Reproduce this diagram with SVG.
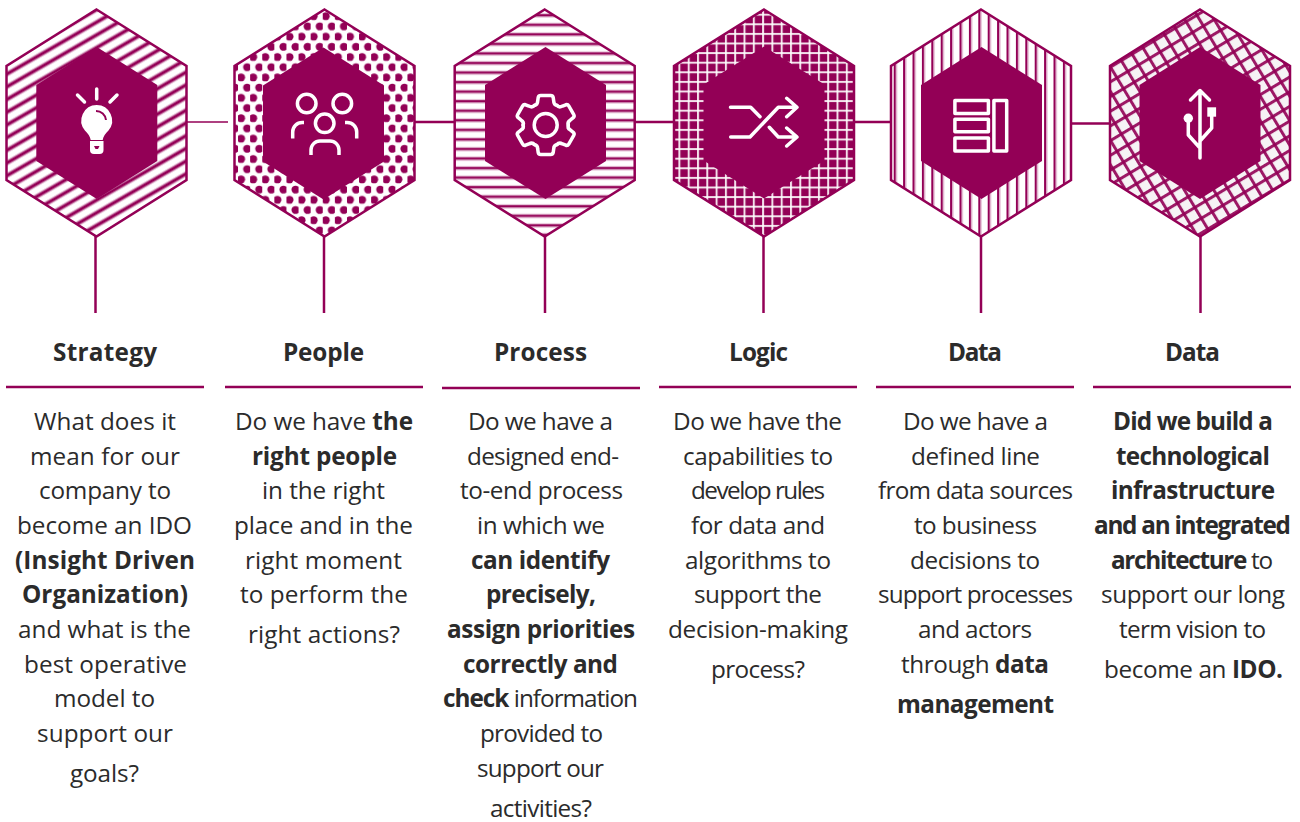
<svg xmlns="http://www.w3.org/2000/svg" width="1300" height="822" viewBox="0 0 1300 822">
<style>
.outer{stroke:#930056;stroke-width:2.5;stroke-linejoin:miter}
.inner{fill:#930056}
.c{stroke:#930056;stroke-width:2.5;fill:none}
.ic{stroke:#fff;stroke-width:3.5;fill:none;stroke-linecap:round;stroke-linejoin:round}
.rule{stroke:#930056;stroke-width:2.5;fill:none}
text{font-family:"Open Sans","Noto Sans","Liberation Sans",sans-serif;font-size:24.3px;fill:#2b2b2b;text-anchor:middle}
.h,.b{font-weight:700}
</style>
<defs>
<pattern id="p1" width="20" height="11" patternUnits="userSpaceOnUse" patternTransform="translate(21.7 154) rotate(-30)"><rect width="20" height="11" fill="#fff"/><rect y="-0" width="20" height="2.6" fill="#930056" opacity=".3"/><rect y="8.4" width="20" height="2.6" fill="#930056" opacity=".3"/><rect y="0" width="20" height="1.5" fill="#930056"/><rect y="9.500" width="20" height="1.5" fill="#930056"/></pattern>
<pattern id="p2" width="12.1" height="20.4" patternUnits="userSpaceOnUse" patternTransform="translate(240.25 72.2)"><rect width="12.1" height="20.4" fill="#fff"/><circle cx="3.025" cy="5.1" r="4" fill="#930056"/><circle cx="9.075" cy="15.3" r="4" fill="#930056"/></pattern>
<pattern id="p3" width="10" height="9.55" patternUnits="userSpaceOnUse" patternTransform="translate(0 7.150)"><rect width="10" height="9.55" fill="#fff"/><rect y="0" width="10" height="2.6" fill="#930056" opacity=".25"/><rect y="7.55" width="10" height="2" fill="#930056" opacity=".25"/><rect y="0" width="10" height="1.3" fill="#930056"/><rect y="8.750" width="10" height=".8" fill="#930056"/></pattern>
<pattern id="p4" width="9.3" height="9.6" patternUnits="userSpaceOnUse" patternTransform="translate(677 64)"><rect width="9.3" height="9.6" fill="#930056"/><rect x="0" width="2" height="9.6" fill="#fff" opacity=".88"/><rect y="0" width="9.3" height="2" fill="#fff" opacity=".88"/></pattern>
<pattern id="p5" width="9.4" height="10" patternUnits="userSpaceOnUse" patternTransform="translate(899.700 0)"><rect width="9.4" height="10" fill="#fff"/><rect x="0" width="2" height="10" fill="#930056"/><rect x="2" width="1.4" height="10" fill="#930056" opacity=".3"/></pattern>
<pattern id="p6" width="12.6" height="12.6" patternUnits="userSpaceOnUse" patternTransform="translate(1110 60) rotate(-31)"><rect width="12.6" height="12.6" fill="#f6f3f5"/><rect y="0" width="12.6" height="3" fill="#930056" opacity=".9"/><rect x="0" width="3" height="12.6" fill="#930056" opacity=".9"/></pattern>
<path id="outerhex" d="M0-113 L90-56.500 V57.500 L0 114 L-90 57.500 V-56.500Z"/>
<path id="innerhex" d="M0-76 L60.500-38 V38 L0 76 L-60.500 38 V-38Z"/>
<path id="tooth" d="M-11.500-19.500 Q-8-20-8-24 L-7.500-27.500 Q-7-29.500-5-29.500 H5 Q7-29.500 7.500-27.500 L8-24 Q8-20 11.500-19.500"/>
</defs>
<g id="connectors">
<path d="M186 122H228" fill="none" stroke="#930056" stroke-width="1.3"/>
<path class="c" d="M415 122H455"/>
<path class="c" d="M635 122H674"/>
<path class="c" d="M854 122H891"/>
<path class="c" d="M1071 123.500H1110"/>
<path class="c" d="M95.500 236V313"/>
<path class="c" d="M324 236V313"/>
<path class="c" d="M545 236V313"/>
<path class="c" d="M763.500 236V313"/>
<path class="c" d="M981 236V313"/>
<path class="c" d="M1200.500 236V313"/>
</g>
<g id="node-strategy">
<use href="#outerhex" x="96.500" y="122.500" fill="url(#p1)" class="outer"/>
<use href="#innerhex" x="96.800" y="123" class="inner"/>
<path class="ic" d="M96.700 89V99M77.500 95L84.500 102M117 95L110 102"/>
<path d="M96.700 105a15.500 15.500 0 0 1 11.800 25.400c-3 3.400-5.300 5.600-5.800 9.600h-12c-.5-4-2.800-6.200-5.800-9.600a15.500 15.500 0 0 1 11.800-25.400z" fill="#fff"/>
<path d="M96 111a10 10 0 0 1 10 9" fill="none" stroke="#930056" stroke-width="2"/>
<path d="M90 141h13.500v9a4 4 0 0 1-4 4h-5.500a4 4 0 0 1-4-4z" fill="#fff"/>
<path d="M94 146h5.500l-1.500 3h-2.500z" fill="#930056"/>
</g>
<g id="node-people">
<use href="#outerhex" x="324.500" y="122.500" fill="url(#p2)" class="outer"/>
<use href="#innerhex" x="323.500" y="123.500" class="inner"/>
<g class="ic">
<circle cx="306.700" cy="103.500" r="9.300"/>
<circle cx="342.300" cy="103.500" r="9.300"/>
<circle cx="324.700" cy="123.300" r="9.300"/>
<path d="M292.700 138.500V132a9.500 9.500 0 0 1 9.500-9.500H304M356.700 138.500V132a9.500 9.500 0 0 0-9.500-9.500H345M311 155V150a9 9 0 0 1 9-9h10a9 9 0 0 1 9 9V155" stroke-linecap="butt"/>
</g>
</g>
<g id="node-process">
<use href="#outerhex" x="544.700" y="122.500" fill="url(#p3)" class="outer"/>
<use href="#innerhex" x="545.500" y="123" class="inner"/>
<g class="ic" transform="translate(545.700 125)">
<circle r="11.500"/>
<use href="#tooth"/>
<use href="#tooth" transform="rotate(60)"/>
<use href="#tooth" transform="rotate(120)"/>
<use href="#tooth" transform="rotate(180)"/>
<use href="#tooth" transform="rotate(240)"/>
<use href="#tooth" transform="rotate(300)"/>
</g>
</g>
<g id="node-logic">
<use href="#outerhex" x="764" y="122.500" fill="url(#p4)" class="outer"/>
<use href="#innerhex" x="764" y="122.500" class="inner"/>
<path class="ic" d="M730.500 107.300H750.700L760 116.700M730.700 137H750L778.300 107.300H796.700M786.700 98.300L797 107.300L786.700 116.700M769.300 127.300L778.300 137H796M786.700 128L797 137L786.700 146"/>
</g>
<g id="node-data-1">
<use href="#outerhex" x="981" y="122.500" fill="url(#p5)" class="outer"/>
<use href="#innerhex" x="981.500" y="123" class="inner"/>
<g class="ic">
<rect x="954.900" y="100.600" width="33.500" height="13"/>
<rect x="954.900" y="119.300" width="33.500" height="12.500"/>
<rect x="954.900" y="137.900" width="33.500" height="13"/>
<rect x="993.900" y="100.600" width="12.800" height="50.300"/>
</g>
</g>
<g id="node-data-2">
<use href="#outerhex" x="1200" y="122.500" fill="url(#p6)" class="outer"/>
<use href="#innerhex" x="1200" y="123" class="inner"/>
<path class="ic" d="M1200 91V158M1190.500 100L1200 90.500L1209.500 100M1188.300 118V135L1200 148M1211.700 116V128L1200 141"/>
<circle cx="1188.300" cy="118.300" r="4.700" fill="#fff"/>
<rect x="1207.300" y="107.300" width="8.800" height="9.400" fill="#fff"/>
</g>
<g id="col-strategy">
<text class="h" x="105" y="361" textLength="104">Strategy</text>
<path class="rule" d="M6 387H204"/>
<text x="105" y="430" textLength="142">What does it</text>
<text x="105" y="465" textLength="150">mean for our</text>
<text x="105" y="499" textLength="132">company to</text>
<text x="104.500" y="534" textLength="175">become an IDO</text>
<text class="b" x="105" y="569" textLength="180">(Insight Driven</text>
<text class="b" x="105" y="603" textLength="166">Organization)</text>
<text x="104.500" y="638" textLength="173">and what is the</text>
<text x="105.500" y="673" textLength="163">best operative</text>
<text x="104.500" y="707" textLength="101">model to</text>
<text x="105" y="742" textLength="136">support our</text>
<text x="104.500" y="782" textLength="69">goals?</text>
</g>
<g id="col-people">
<text class="h" x="323.500" y="361" textLength="81">People</text>
<path class="rule" d="M225 387H423"/>
<text x="324" y="430" textLength="178">Do we have <tspan class="b">the</tspan></text>
<text class="b" x="324.500" y="465" textLength="145">right people</text>
<text x="323.500" y="499" textLength="123">in the right</text>
<text x="323.500" y="534" textLength="179">place and in the</text>
<text x="323.500" y="569" textLength="157">right moment</text>
<text x="324" y="603" textLength="168">to perform the</text>
<text x="324" y="643" textLength="152">right actions?</text>
</g>
<g id="col-process">
<text class="h" x="540.500" y="361" textLength="93">Process</text>
<path class="rule" d="M442 388H640"/>
<text x="540.500" y="430" textLength="145">Do we have a</text>
<text x="543" y="465" textLength="152">designed end-</text>
<text x="541.500" y="499" textLength="163">to-end process</text>
<text x="541" y="534" textLength="128">in which we</text>
<text class="b" x="540.500" y="569" textLength="139">can identify</text>
<text class="b" x="541" y="603" textLength="110">precisely,</text>
<text class="b" x="541" y="638" textLength="188">assign priorities</text>
<text class="b" x="540.500" y="673" textLength="155">correctly and</text>
<text x="540.500" y="707" textLength="195"><tspan class="b">check</tspan> information</text>
<text x="541.500" y="742" textLength="123">provided to</text>
<text x="540.500" y="777" textLength="127">support our</text>
<text x="541" y="817" textLength="102">activities?</text>
</g>
<g id="col-logic">
<text class="h" x="758.500" y="361" textLength="59">Logic</text>
<path class="rule" d="M659 387H857"/>
<text x="757.500" y="430" textLength="169">Do we have the</text>
<text x="758" y="465" textLength="150">capabilities to</text>
<text x="758" y="499" textLength="134">develop rules</text>
<text x="758" y="534" textLength="134">for data and</text>
<text x="758" y="569" textLength="146">algorithms to</text>
<text x="758" y="603" textLength="128">support the</text>
<text x="758" y="638" textLength="180">decision-making</text>
<text x="758" y="678" textLength="94">process?</text>
</g>
<g id="col-data-1">
<text class="h" x="975" y="361" textLength="54">Data</text>
<path class="rule" d="M876 387H1074"/>
<text x="975.500" y="430" textLength="145">Do we have a</text>
<text x="975.500" y="465" textLength="129">defined line</text>
<text x="975.500" y="499" textLength="195">from data sources</text>
<text x="975.500" y="534" textLength="123">to business</text>
<text x="975" y="569" textLength="130">decisions to</text>
<text x="975.500" y="603" textLength="195">support processes</text>
<text x="975" y="638" textLength="114">and actors</text>
<text x="975" y="673" textLength="148">through <tspan class="b">data</tspan></text>
<text class="b" x="975.500" y="713" textLength="157">management</text>
</g>
<g id="col-data-2">
<text class="h" x="1192.500" y="361" textLength="55">Data</text>
<path class="rule" d="M1093 387H1291"/>
<text class="b" x="1193" y="430" textLength="160">Did we build a</text>
<text class="b" x="1193" y="465" textLength="154">technological</text>
<text class="b" x="1193" y="499" textLength="164">infrastructure</text>
<text class="b" x="1192.500" y="534" textLength="197">and an integrated</text>
<text x="1192" y="569" textLength="162"><tspan class="b">architecture</tspan> to</text>
<text x="1193" y="603" textLength="184">support our long</text>
<text x="1192.500" y="638" textLength="147">term vision to</text>
<text x="1193.500" y="678" textLength="179">become an <tspan class="b">IDO.</tspan></text>
</g>
</svg>
